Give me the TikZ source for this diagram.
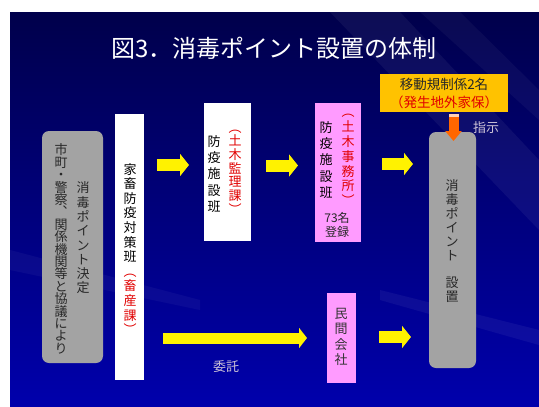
\documentclass[tikz,border=0pt]{standalone}
\usepackage{fontspec}
\setmainfont{Noto Sans CJK JP}
\usetikzlibrary{arrows.meta}
\definecolor{bgtop}{RGB}{0,0,75}
\definecolor{bgmid}{RGB}{0,0,130}
\definecolor{bgbot}{RGB}{0,0,172}
\definecolor{boxgray}{RGB}{163,163,163}
\definecolor{pinkfill}{RGB}{255,155,255}
\definecolor{goldfill}{RGB}{255,194,0}
\definecolor{jred}{RGB}{225,0,0}
\definecolor{orangearrow}{RGB}{255,102,0}
\definecolor{lbl}{RGB}{205,195,215}
\definecolor{darktext}{RGB}{40,40,40}
\tikzset{
  graybox/.style={fill=boxgray, rounded corners=7pt, inner sep=0pt},
  whitebox/.style={fill=white, inner sep=0pt},
  pinkbox/.style={fill=pinkfill, inner sep=0pt},
  goldbox/.style={fill=goldfill, inner sep=0pt},
  vtext/.style={align=center, inner sep=0pt, font=\fontsize{13}{#1}\selectfont},
  vtext/.default=15,
  yarrow/.style={draw=yellow, line width=12pt, -{Triangle[length=9pt,width=22pt]}},
  lbltext/.style={text=lbl, inner sep=0pt, font=\fontsize{13}{15}\selectfont},
}
\begin{document}
\begin{tikzpicture}[x=1pt,y=-1pt]
\useasboundingbox (0,0) rectangle (539,407);
\fill[white] (0,0) rectangle (539,407);
\shade[top color=bgtop, middle color=bgmid, bottom color=bgbot] (10,12) rectangle (539,407);
% faint streaks
\fill[white, opacity=0.05] (330,12) -- (400,12) -- (539,160) -- (539,230) -- cycle;
\fill[white, opacity=0.04] (420,12) -- (460,12) -- (539,90) -- (539,120) -- cycle;
\fill[white, opacity=0.05] (380,290) -- (539,330) -- (539,345) -- (380,300) -- cycle;
\fill[white, opacity=0.04] (10,250) -- (200,300) -- (200,310) -- (10,270) -- cycle;

% title
\node[text=white, inner sep=0pt, font=\fontsize{24}{28}\selectfont] (title) at (274,48) {図3．消毒ポイント設置の体制};

% left gray box
\node[graybox, minimum width=61pt, minimum height=232pt] (A) at (72.5,247) {};
\node[vtext=14.3, text=darktext] (A1) at (83,238) {消\\毒\\ポ\\イ\\ン\\ト\\決\\定};
\node[vtext=12.4, text=darktext] (A2) at (61,249) {市\\町\\・\\警\\察\\︑\\関\\係\\機\\関\\等\\と\\協\\議\\に\\よ\\り};

% white box B
\node[whitebox, minimum width=29pt, minimum height=266pt] (B) at (129.5,247) {};
\node[vtext=14.6, text=black] (Bt) at (130,249) {家\\畜\\防\\疫\\対\\策\\班\\{\color{jred}︵}\\{\color{jred}畜}\\{\color{jred}産}\\{\color{jred}課}\\{\color{jred}︶}};

% white box C
\node[whitebox, minimum width=47pt, minimum height=138pt] (C) at (227.5,172) {};
\node[vtext=13.7, text=jred] (Cr) at (235,172) {︵\\土\\木\\監\\理\\課\\︶};
\node[vtext=16.2, text=black] (Cb) at (214,174) {防\\疫\\施\\設\\班};

% pink box D
\node[pinkbox, minimum width=46pt, minimum height=139pt] (D) at (338,172.5) {};
\node[vtext=14.8, text=jred] (Dr) at (348,160) {︵\\土\\木\\事\\務\\所\\︶};
\node[vtext=16.2, text=black] (Db) at (326,160) {防\\疫\\施\\設\\班};
\node[align=center, inner sep=0pt, font=\fontsize{12}{14}\selectfont, text=darktext] (Dn) at (337,225) {73名\\登録};

% gold box F
\node[goldbox, minimum width=128pt, minimum height=38pt] (F) at (444,93) {};
\node[align=center, inner sep=0pt, font=\fontsize{13.5}{18}\selectfont, text=darktext] (Ft) at (444,93) {移動規制係2名\\{\color{jred}（発生地外家保）}};

% gray box E
\node[graybox, minimum width=47pt, minimum height=236pt] (E) at (452.5,250) {};
\node[vtext=14, text=darktext] (Et) at (452,241) {消\\毒\\ポ\\イ\\ン\\ト\\[13pt]設\\置};

% pink box H
\node[pinkbox, minimum width=29pt, minimum height=90pt] (H) at (341.5,338) {};
\node[vtext=15.5, text=black!80] (Ht) at (341,337) {民\\間\\会\\社};

% labels
\node[lbltext] (L1) at (226,367) {委託};
\node[lbltext] (L2) at (486,128) {指示};

% arrow end points
\coordinate (a1s) at (157,165);  \coordinate (a1e) at (189,165);
\coordinate (a2s) at (266,165.5);\coordinate (a2e) at (298,165.5);
\coordinate (a3s) at (382,164);  \coordinate (a3e) at (413,164);
\coordinate (a4s) at (379,337);  \coordinate (a4e) at (411,337);
\coordinate (gs) at (163,338);   \coordinate (ge) at (307,338);
\coordinate (os) at (453.5,114);  \coordinate (oe) at (453.5,141);

\draw[yarrow] (a1s) -- (a1e);
\draw[yarrow] (a2s) -- (a2e);
\draw[yarrow] (a3s) -- (a3e);
\draw[yarrow] (a4s) -- (a4e);
\draw[draw=yellow, line width=11pt, -{Triangle[length=8pt,width=20pt]}] (gs) -- (ge);
\draw[draw=orangearrow, line width=10pt, -{Triangle[length=10pt,width=16pt]}] (os) -- (oe);
\fill[white, opacity=0.7] (448.5,114) rectangle (458.5,117);
\end{tikzpicture}
\end{document}
